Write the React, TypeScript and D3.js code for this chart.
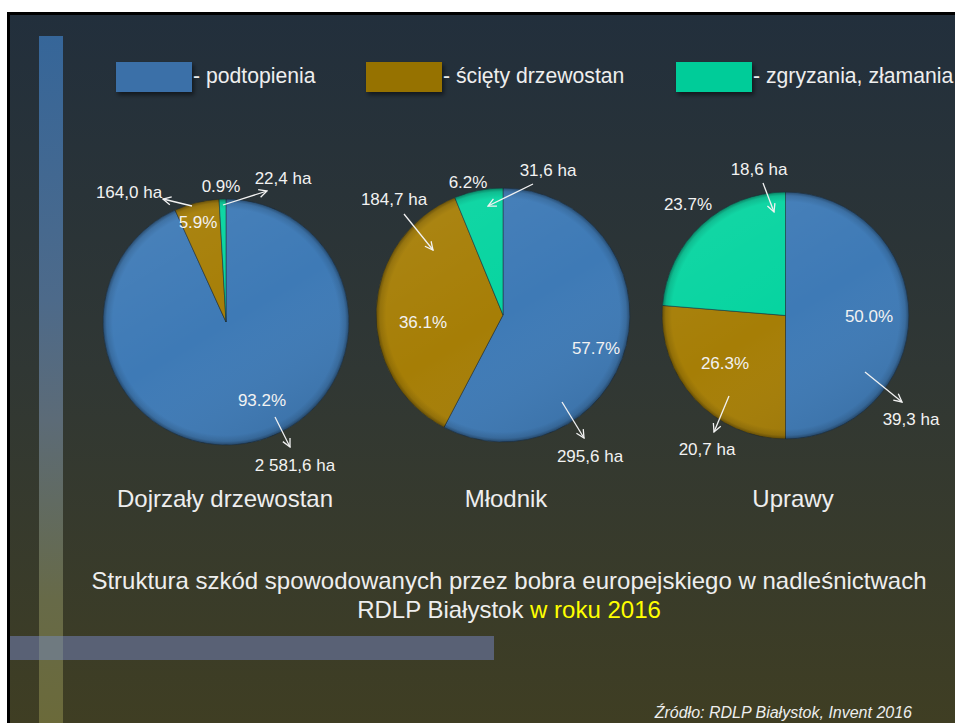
import React from "react";
import * as d3 from "d3";

const categories = ["Dojrzały drzewostan", "Młodnik", "Uprawy"];
const seriesNames = ["podtopienia", "ścięty drzewostan", "zgryzania, złamania"];
const seriesColors = ["#3e7ab6", "#a67e06", "#06d4a0"];
const legendColors = ["#3a6fa8", "#967200", "#00cc99"];
const percents = [
  [93.2, 5.9, 0.9],
  [57.7, 36.1, 6.2],
  [50.0, 26.3, 23.7],
];
const areaLabels = [
  ["2 581,6 ha", "164,0 ha", "22,4 ha"],
  ["295,6 ha", "184,7 ha", "31,6 ha"],
  ["39,3 ha", "20,7 ha", "18,6 ha"],
];
const titleMain = "Struktura szkód spowodowanych przez bobra europejskiego w nadleśnictwach";
const titleLine2a = "RDLP Białystok ";
const titleLine2b = "w roku 2016";
const sourceText = "Źródło: RDLP Białystok, Invent 2016";

// layout (positions only)
const pieLayout = [
  { cx: 226, cy: 322, r: 123 },
  { cx: 503, cy: 315, r: 127 },
  { cx: 785.5, cy: 315.5, r: 123.5 },
];
const pctPos = [
  [[262, 400], [198, 222], [221, 186]],
  [[596, 348], [423, 322], [468, 182]],
  [[869, 316], [725, 363], [688, 204]],
];
const areaPos = [
  [[295, 465], [129, 192], [283, 178]],
  [[590, 456], [394, 199], [548, 170]],
  [[911, 419], [707, 449], [759, 169]],
];
const arrowPos = [
  [[275, 417, 290, 447], [192, 206, 163, 199], [223, 205, 267, 191]],
  [[562, 402, 584, 438], [404, 214, 433, 250], [533, 184, 488, 206]],
  [[865, 372, 902, 402], [729, 396, 714, 432], [763, 183, 774, 212]],
];
const catX = [225, 506, 793];
const legendX = [116, 366, 676];

const FONT = "'Liberation Sans', Arial, sans-serif";

export default function App() {
  const W = 955, H = 723;
  const pie = d3.pie<number>().sort(null).value((d) => d).startAngle(0).endAngle(2 * Math.PI);
  return (
    <svg width={W} height={H} style={{ position: "absolute", left: 0, top: 0 }} fontFamily={FONT}>
      <defs>
        <linearGradient id="bg" x1="0" y1="0" x2="0" y2="1">
          <stop offset="0" stopColor="#222f3c" />
          <stop offset="0.5" stopColor="#303734" />
          <stop offset="1" stopColor="#3f3e23" />
        </linearGradient>
        <linearGradient id="vbar" x1="0" y1="0" x2="0" y2="1">
          <stop offset="0" stopColor="#366699" />
          <stop offset="0.384" stopColor="#4d6a8a" />
          <stop offset="0.559" stopColor="#5c6b77" />
          <stop offset="0.821" stopColor="#676a48" />
          <stop offset="1" stopColor="#6b6a3a" />
        </linearGradient>
        <radialGradient id="bevel" cx="0.5" cy="0.5" r="0.5">
          <stop offset="0" stopColor="#000" stopOpacity="0" />
          <stop offset="0.92" stopColor="#000" stopOpacity="0" />
          <stop offset="0.97" stopColor="#000" stopOpacity="0.12" />
          <stop offset="1" stopColor="#000" stopOpacity="0.4" />
        </radialGradient>
        <linearGradient id="hilite" x1="0.2" y1="0" x2="0.8" y2="1">
          <stop offset="0" stopColor="#fff" stopOpacity="0.06" />
          <stop offset="0.5" stopColor="#fff" stopOpacity="0" />
          <stop offset="1" stopColor="#000" stopOpacity="0.1" />
        </linearGradient>
        <filter id="shadow" x="-20%" y="-20%" width="150%" height="160%">
          <feDropShadow dx="2" dy="3" stdDeviation="2" floodColor="#000" floodOpacity="0.5" />
        </filter>
        <marker id="arr" viewBox="0 0 10 10" refX="9" refY="5" markerWidth="10" markerHeight="10" markerUnits="userSpaceOnUse" orient="auto">
          <path d="M1,1 L9,5 L1,9" fill="none" stroke="#f2f2f2" strokeWidth="1.3" />
        </marker>
      </defs>
      <rect x={0} y={0} width={W} height={H} fill="#ffffff" />
      <rect x={7} y={12} width={W - 7} height={H - 12} fill="#000" />
      <rect x={10} y={15} width={W - 10} height={H - 15} fill="url(#bg)" />
      <rect x={39} y={36} width={24} height={H - 36} fill="url(#vbar)" />
      <rect x={10} y={636} width={484} height={24} fill="#596175" />
      <rect x={39} y={636} width={24} height={24} fill="#6f7a80" />

      {seriesNames.map((s, i) => (
        <g key={s}>
          <rect x={legendX[i]} y={62} width={76} height={30} fill={legendColors[i]} filter="url(#shadow)" />
          <text x={legendX[i] + 77} y={83} fontSize={21.2} fill="#eeeeee">{"- " + s}</text>
        </g>
      ))}

      {categories.map((c, ci) => {
        const L = pieLayout[ci];
        const arc = d3.arc<d3.PieArcDatum<number>>().innerRadius(0).outerRadius(L.r);
        const arcs = pie(percents[ci]);
        return (
          <g key={c}>
            <g transform={`translate(${L.cx},${L.cy})`}>
              {arcs.map((a, i) => (
                <path key={i} d={arc(a) || ""} fill={seriesColors[i]} stroke="#1e2e3c" strokeOpacity={0.7} strokeWidth={0.8} />
              ))}
              <circle r={L.r} fill="url(#hilite)" />
              <circle r={L.r} fill="url(#bevel)" />
            </g>
            {arcs.map((a, i) => (
              <g key={"l" + i}>
                <text x={pctPos[ci][i][0]} y={pctPos[ci][i][1] + 6} textAnchor="middle" fontSize={17} fill="#f2f2f2">
                  {percents[ci][i].toFixed(1) + "%"}
                </text>
                <text x={areaPos[ci][i][0]} y={areaPos[ci][i][1] + 6} textAnchor="middle" fontSize={17} fill="#f2f2f2">
                  {areaLabels[ci][i]}
                </text>
                <line x1={arrowPos[ci][i][0]} y1={arrowPos[ci][i][1]} x2={arrowPos[ci][i][2]} y2={arrowPos[ci][i][3]}
                  stroke="#f2f2f2" strokeWidth={1.3} markerEnd="url(#arr)" />
              </g>
            ))}
            <text x={catX[ci]} y={507} textAnchor="middle" fontSize={24} fill="#eeeeee">{c}</text>
          </g>
        );
      })}

      <text x={509} y={589} textAnchor="middle" fontSize={24} fill="#eeeeee">{titleMain}</text>
      <text x={509} y={618} textAnchor="middle" fontSize={24} fill="#eeeeee">
        {titleLine2a}
        <tspan fill="#ffff00">{titleLine2b}</tspan>
      </text>
      <text x={912} y={718} textAnchor="end" fontSize={16} fontStyle="italic" fill="#eeeeee">{sourceText}</text>
    </svg>
  );
}
